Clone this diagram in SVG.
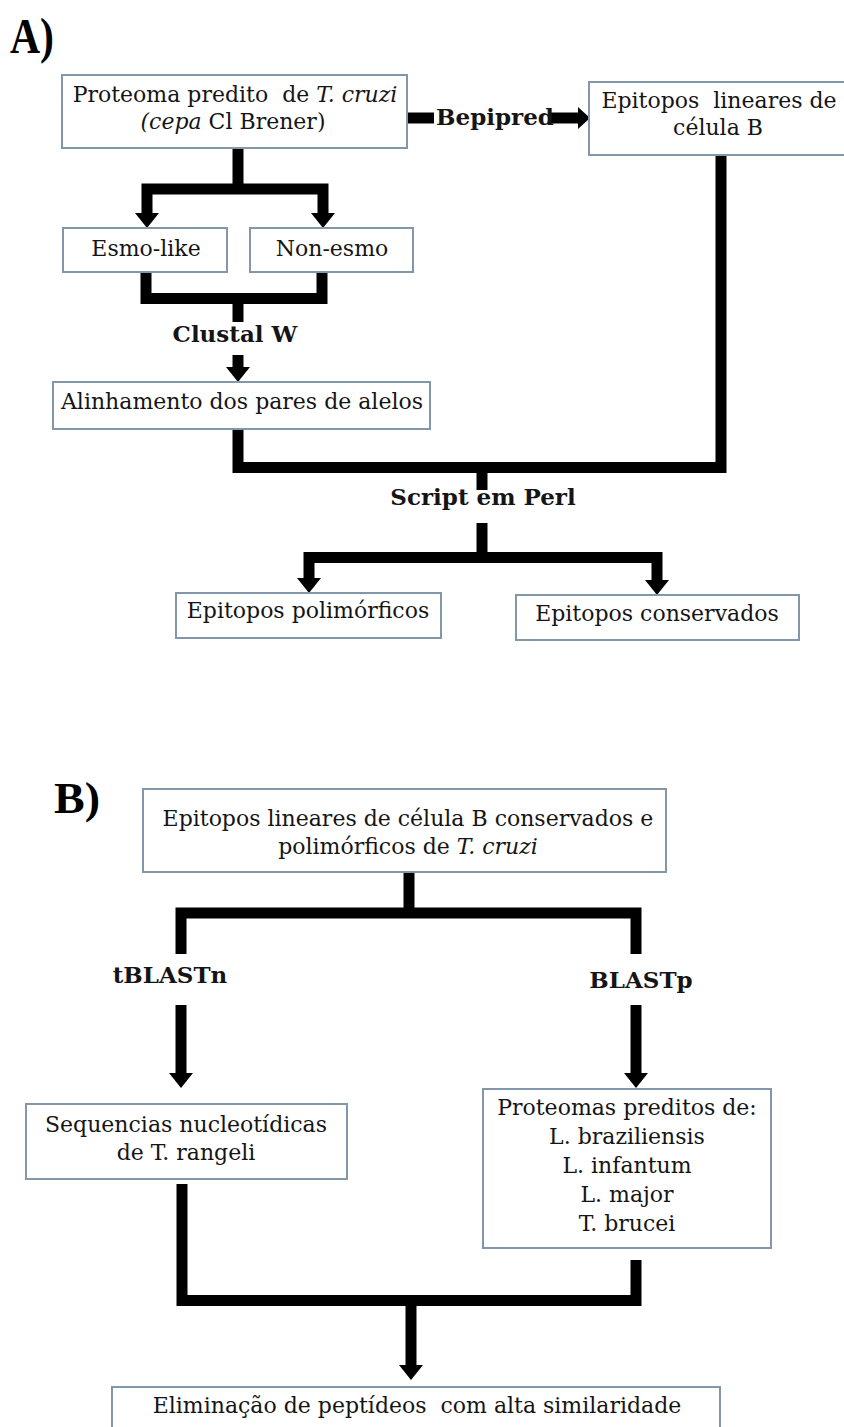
<svg xmlns="http://www.w3.org/2000/svg" width="844" height="1427" viewBox="0 0 844 1427">
<style>
.box{fill:#fff;stroke:#8397ab;stroke-width:2}
.t{font-family:"DejaVu Serif","Liberation Serif",serif;font-size:22px;fill:#151515;text-anchor:middle;white-space:pre}
.b{font-family:"DejaVu Serif","Liberation Serif",serif;font-size:23px;font-weight:bold;fill:#151515;text-anchor:middle}
.h{font-family:"Liberation Serif","DejaVu Serif",serif;font-weight:bold;fill:#000}
.i{font-style:italic}
.c{fill:none;stroke:#000;stroke-width:11;stroke-linejoin:miter;stroke-linecap:butt}
</style>
<defs>
<marker id="ah" viewBox="0 0 15 24" markerWidth="15" markerHeight="24" refX="0" refY="12" orient="auto" markerUnits="userSpaceOnUse">
<path d="M0,0 L15,12 L0,24 z" fill="#000"/>
</marker>
</defs>
<rect width="844" height="1427" fill="#fff"/>

<text class="h" x="10" y="53" font-size="50" textLength="44" lengthAdjust="spacingAndGlyphs">A)</text>
<text class="h" x="54" y="813" font-size="44" textLength="46" lengthAdjust="spacingAndGlyphs">B)</text>

<g id="connectors">
<path class="c" d="M238,148 V189"/>
<path class="c" d="M238,189 H147 V213" marker-end="url(#ah)"/>
<path class="c" d="M238,189 H323 V213" marker-end="url(#ah)"/>
<path class="c" d="M407,118 H434" stroke-width="10"/>
<path class="c" d="M550,118 H578" stroke-width="12"/>
<polygon points="578,107 590,118 578,129" fill="#000"/>
<path class="c" d="M146,272 V298.5 H322 V272"/>
<path class="c" d="M238,298 V322"/>
<path class="c" d="M238,355 V367" marker-end="url(#ah)"/>
<path class="c" d="M721,155 V467.5 H238 V429"/>
<path class="c" d="M482,473 V490"/>
<path class="c" d="M482,523 V557.5"/>
<path class="c" d="M482,557.5 H309 V578" marker-end="url(#ah)"/>
<path class="c" d="M482,557.5 H657 V580" marker-end="url(#ah)"/>
<path class="c" d="M409,872 V913"/>
<path class="c" d="M409,913 H181 V954"/>
<path class="c" d="M409,913 H636 V954"/>
<path class="c" d="M181,1005 V1073" marker-end="url(#ah)"/>
<path class="c" d="M636,1005 V1073" marker-end="url(#ah)"/>
<path class="c" d="M182,1184 V1300.5 H636 V1260"/>
<path class="c" d="M411,1300 V1365" marker-end="url(#ah)"/>
</g>

<g id="labels">
<text class="b" x="495" y="125" font-size="21.5">Bepipred</text>
<text class="b" x="235" y="342">Clustal W</text>
<text class="b" x="483" y="505">Script em Perl</text>
<text class="b" x="170" y="983">tBLASTn</text>
<text class="b" x="641" y="988">BLASTp</text>
</g>

<g id="n1"><rect class="box" x="62" y="75" width="345" height="73"/>
<text class="t" x="235" y="102" xml:space="preserve">Proteoma predito  de <tspan class="i">T. cruzi</tspan></text>
<text class="t" x="233" y="129"><tspan class="i">(cepa</tspan> Cl Brener)</text></g>

<g id="n2"><rect class="box" x="589" y="82" width="260" height="73"/>
<text class="t" x="719" y="108" xml:space="preserve">Epitopos  lineares de</text>
<text class="t" x="718" y="135">célula B</text></g>

<g id="n3"><rect class="box" x="63" y="228" width="164" height="44"/>
<text class="t" x="146" y="256">Esmo-like</text></g>

<g id="n4"><rect class="box" x="250" y="228" width="163" height="44"/>
<text class="t" x="332" y="256">Non-esmo</text></g>

<g id="n5"><rect class="box" x="53" y="382" width="377" height="47"/>
<text class="t" x="242" y="409">Alinhamento dos pares de alelos</text></g>

<g id="n6"><rect class="box" x="176" y="593" width="265" height="45"/>
<text class="t" x="308" y="618">Epitopos polimórficos</text></g>

<g id="n7"><rect class="box" x="516" y="595" width="283" height="45"/>
<text class="t" x="657" y="621">Epitopos conservados</text></g>

<g id="n8"><rect class="box" x="143" y="789" width="523" height="83"/>
<text class="t" x="408" y="826">Epitopos lineares de célula B conservados e</text>
<text class="t" x="408" y="854">polimórficos de <tspan class="i">T. cruzi</tspan></text></g>

<g id="n9"><rect class="box" x="26" y="1104" width="321" height="75"/>
<text class="t" x="186" y="1132">Sequencias nucleotídicas</text>
<text class="t" x="186" y="1160">de T. rangeli</text></g>

<g id="n10"><rect class="box" x="483" y="1089" width="288" height="159"/>
<text class="t" x="627" y="1115">Proteomas preditos de:</text>
<text class="t" x="627" y="1144">L. braziliensis</text>
<text class="t" x="627" y="1173">L. infantum</text>
<text class="t" x="627" y="1202">L. major</text>
<text class="t" x="627" y="1231">T. brucei</text></g>

<g id="n11"><rect class="box" x="112" y="1387" width="608" height="50"/>
<text class="t" x="417" y="1413" xml:space="preserve">Eliminação de peptídeos  com alta similaridade</text></g>
</svg>
